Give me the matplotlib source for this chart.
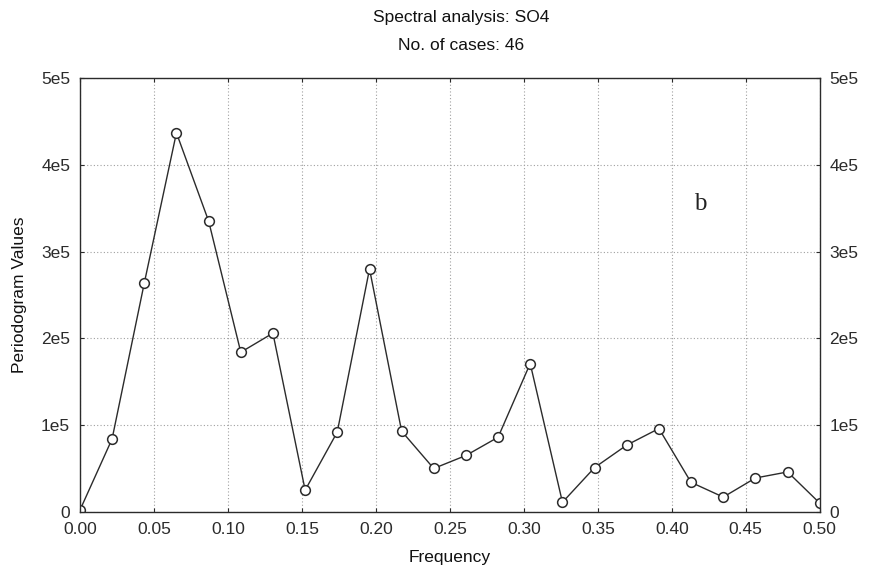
import matplotlib
matplotlib.use("Agg")
import matplotlib.pyplot as plt
from matplotlib.ticker import FuncFormatter

# ================= DATA =================

frequency = [0.0, 0.0217, 0.0435, 0.0652, 0.0870, 0.1087, 0.1304, 0.1522,
             0.1739, 0.1957, 0.2174, 0.2391, 0.2609, 0.2826, 0.3043, 0.3261,
             0.3478, 0.3696, 0.3913, 0.4130, 0.4348, 0.4565, 0.4783, 0.5]
periodogram = [2000, 84000, 264000, 437000, 335000, 184000, 206000, 25000,
               92000, 280000, 93000, 50000, 65000, 86000, 171000, 11000,
               51000, 77000, 96000, 34000, 17000, 39000, 46000, 10000]

x_ticks = [0.00, 0.05, 0.10, 0.15, 0.20, 0.25, 0.30, 0.35, 0.40, 0.45, 0.50]
y_ticks = [0, 100000, 200000, 300000, 400000, 500000]
y_tick_labels = ["0", "1e5", "2e5", "3e5", "4e5", "5e5"]

# ================= FIGURE =================

plt.rcParams["font.family"] = ["Liberation Sans", "DejaVu Sans"]
ink = "#2b2b2b"

fig = plt.figure(figsize=(8.73, 5.79), dpi=100)
ax = fig.add_axes([0.0916, 0.116, 0.8474, 0.749])

ax.plot(frequency, periodogram, color=ink, linewidth=1.0,
        marker="o", markersize=7, markerfacecolor="white",
        markeredgecolor=ink, markeredgewidth=1.1)

ax.set_xlim(0, 0.5)
ax.set_ylim(0, 500000)
ax.set_xticks(x_ticks)
ax.set_yticks(y_ticks)
ax.xaxis.set_major_formatter(FuncFormatter(lambda v, p: f"{v:.2f}"))
ax.set_yticklabels(y_tick_labels)

ax.grid(True, linestyle=(0, (1, 2)), color="#a0a0a0", linewidth=0.8)
ax.tick_params(direction="in", length=3, width=0.8, colors=ink,
               labelsize=12.5, pad=7, right=True, top=True, labelright=True)
for s in ax.spines.values():
    s.set_color(ink)
    s.set_linewidth(1.0)

ax.set_xlabel("Frequency", fontsize=12.5, color="#111111", labelpad=10)
ax.set_ylabel("Periodogram Values", fontsize=12.5, color="#111111", labelpad=10)

fig.text(0.528, 0.970, "Spectral analysis: SO4", ha="center", va="center",
         fontsize=12.5, color="#111111")
fig.text(0.528, 0.921, "No. of cases: 46", ha="center", va="center",
         fontsize=12.5, color="#111111")

ax.text(0.419, 355000, "b", fontsize=18, family=["Liberation Serif", "DejaVu Serif"],
        color="#222222", ha="center", va="center")

fig.savefig("out.png", dpi=100)
